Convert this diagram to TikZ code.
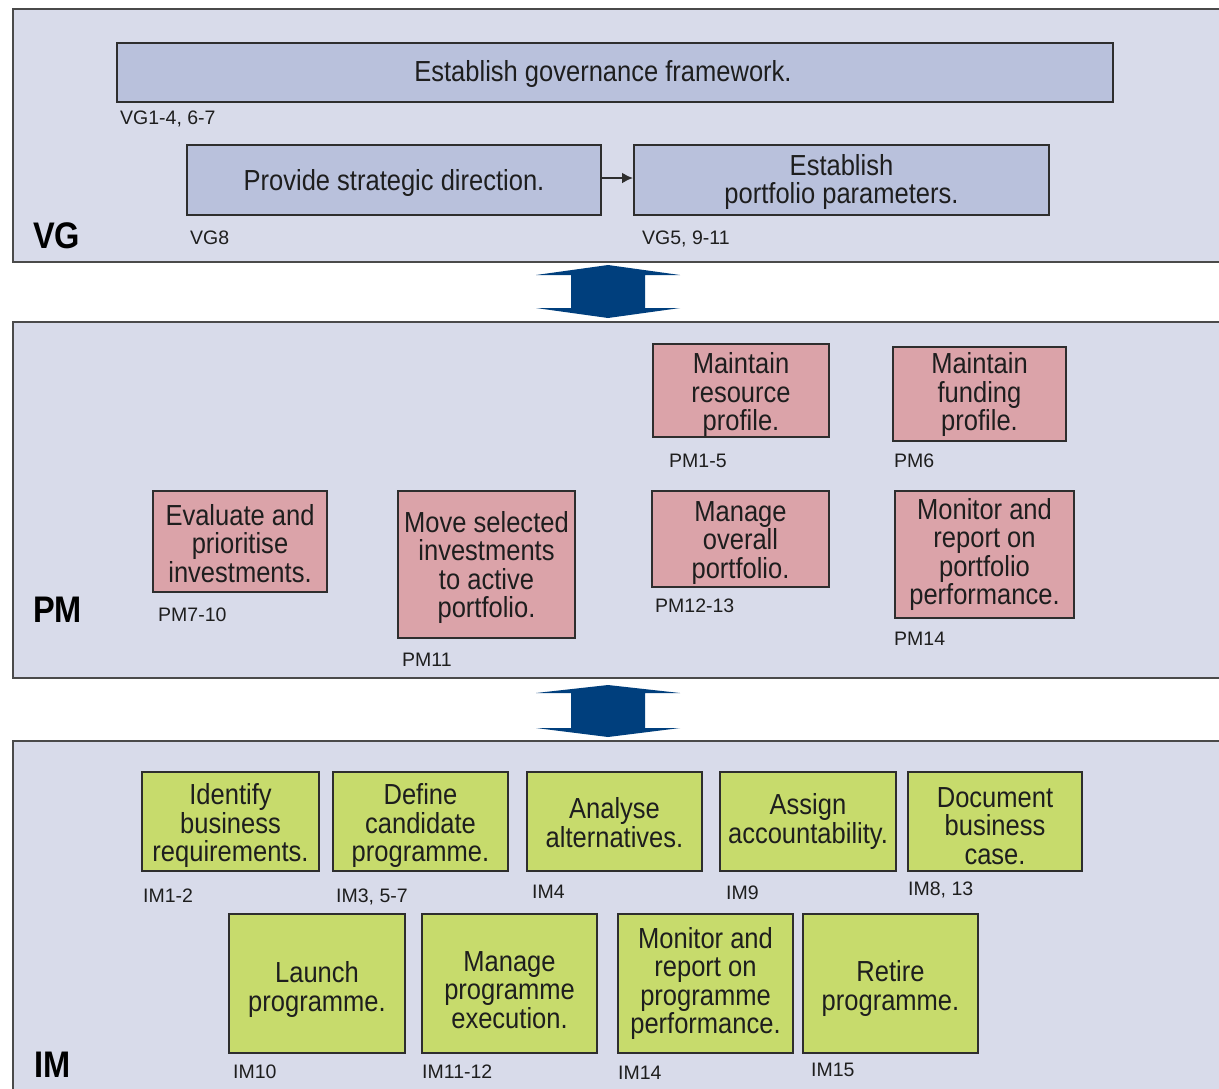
\documentclass[tikz,border=0pt]{standalone}
\usepackage{fontspec}
\setmainfont[FakeStretch=0.88]{Liberation Sans}
\newfontfamily\lblfont{Liberation Sans}
\usetikzlibrary{arrows.meta}
\definecolor{panelbg}{HTML}{D8DBEA}
\definecolor{panelline}{HTML}{4A4A4A}
\definecolor{boxline}{HTML}{2E2E2E}
\definecolor{vgfill}{HTML}{B9C1DC}
\definecolor{pmfill}{HTML}{DBA3A9}
\definecolor{imfill}{HTML}{C7DB6C}
\definecolor{arrowblue}{HTML}{003F7D}
\definecolor{textc}{HTML}{1E1E1E}
% top strut that lowers the text of a box by #1 px
\newcommand\ts[1]{\rule{0pt}{\numexpr21+2*#1\relax pt}}
\tikzset{
  panel/.style={draw=panelline, fill=panelbg, line width=2, anchor=north west, inner sep=0},
  box/.style={draw=boxline, line width=2, inner sep=0, align=center, text=textc,
    font=\fontsize{29}{28.5}\selectfont},
  vgbox/.style={box, fill=vgfill},
  pmbox/.style={box, fill=pmfill},
  imbox/.style={box, fill=imfill},
  lbl/.style={anchor=base west, inner sep=0, text=textc, font=\lblfont\fontsize{19.5}{21}\selectfont},
  big/.style={anchor=base west, inner sep=0, text=black, font=\fontsize{37}{40}\selectfont\bfseries},
  dblarrow/.style={fill=arrowblue}
}
\begin{document}
\begin{tikzpicture}[x=1pt,y=-1pt]
\clip (0,0) rectangle (1219,1088);
\fill[white] (0,0) rectangle (1219,1088);
% panels
\node[panel, minimum width=1240, minimum height=253] (vg) at (12,8) {};
\node[panel, minimum width=1240, minimum height=356] (pm) at (12,321) {};
\node[panel, minimum width=1240, minimum height=400] (im) at (12,740) {};
% double arrows between panels
\fill[dblarrow] (608,265) -- (536,275) -- (571,275) -- (571,308) -- (536,308) -- (608,318)
  -- (680,308) -- (645,308) -- (645,275) -- (680,275) -- cycle;
\fill[dblarrow] (608,685) -- (536,693) -- (571,693) -- (571,728) -- (536,728) -- (608,737)
  -- (680,728) -- (645,728) -- (645,693) -- (680,693) -- cycle;
% VG
\node[vgbox, minimum width=996, minimum height=59] (egf) at (615,72.5) {\ts{2}Establish governance framework.\hspace*{24pt}};
\node[vgbox, minimum width=414, minimum height=70] (psd) at (394,180) {\ts{3}Provide strategic direction.};
\node[vgbox, minimum width=415, minimum height=70] (epp) at (841.5,180) {\ts{2}Establish\\portfolio parameters.};
\draw[-{Latex[length=11,width=11]}, line width=2, draw=boxline] ([yshift=2]psd.east) -- ([yshift=2]epp.west);
\node[lbl] (l-egf) at (120,124) {VG1-4, 6-7};
\node[lbl] (l-psd) at (190,244) {VG8};
\node[lbl] (l-epp) at (642,244) {VG5, 9-11};
\node[big] (t-vg) at (33,248) {VG};
% PM
\node[pmbox, minimum width=176, minimum height=93] (mrp) at (741,390.5) {\ts{4}Maintain\\resource\\profile.};
\node[pmbox, minimum width=173, minimum height=94] (mfp) at (979.5,394) {\ts{1}Maintain\\funding\\profile.};
\node[pmbox, minimum width=174, minimum height=101] (epi) at (240,541.5) {\ts{2}Evaluate and\\prioritise\\investments.};
\node[pmbox, minimum width=177, minimum height=147] (msi) at (486.5,564.5) {\ts{3}Move selected\\investments\\to active\\portfolio.};
\node[pmbox, minimum width=177, minimum height=96] (mop) at (740.5,539) {\ts{3}Manage\\overall\\portfolio.};
\node[pmbox, minimum width=179, minimum height=127] (mrpp) at (984.5,554.5) {\ts{0}Monitor and\\report on\\portfolio\\performance.};
\node[lbl] (l-mrp) at (669,467) {PM1-5};
\node[lbl] (l-mfp) at (894,467) {PM6};
\node[lbl] (l-epi) at (158,621) {PM7-10};
\node[lbl] (l-msi) at (402,666) {PM11};
\node[lbl] (l-mop) at (655,612) {PM12-13};
\node[lbl] (l-mrpp) at (894,645) {PM14};
\node[big] (t-pm) at (33,622) {PM};
% IM
\node[imbox, minimum width=177, minimum height=99] (ibr) at (230.5,821.5) {\ts{4}Identify\\business\\requirements.};
\node[imbox, minimum width=175, minimum height=99] (dcp) at (420.5,821.5) {\ts{4}Define\\candidate\\programme.};
\node[imbox, minimum width=175, minimum height=99] (aal) at (614.5,821.5) {\ts{1}Analyse\\alternatives.};
\node[imbox, minimum width=176, minimum height=99] (aac) at (808,821.5) {\ts{0}Assign\\accountability.};
\node[imbox, minimum width=174, minimum height=99] (dbc) at (995,821.5) {\ts{4}Document\\business\\case.};
\node[imbox, minimum width=176, minimum height=139] (lp) at (317,983.5) {\ts{6}Launch\\programme.};
\node[imbox, minimum width=175, minimum height=139] (mpe) at (509.5,983.5) {\ts{6}Manage\\programme\\execution.};
\node[imbox, minimum width=175, minimum height=139] (mrpr) at (705.5,983.5) {\ts{0}Monitor and\\report on\\programme\\performance.};
\node[imbox, minimum width=175, minimum height=139] (rp) at (890.5,983.5) {\ts{5}Retire\\programme.};
\node[lbl] (l-ibr) at (143,902) {IM1-2};
\node[lbl] (l-dcp) at (336,902) {IM3, 5-7};
\node[lbl] (l-aal) at (532,898) {IM4};
\node[lbl] (l-aac) at (726,899) {IM9};
\node[lbl] (l-dbc) at (908,895) {IM8, 13};
\node[lbl] (l-lp) at (233,1078) {IM10};
\node[lbl] (l-mpe) at (422,1078) {IM11-12};
\node[lbl] (l-mrpr) at (618,1079) {IM14};
\node[lbl] (l-rp) at (811,1076) {IM15};
\node[big] (t-im) at (34,1077) {IM};
\end{tikzpicture}
\end{document}
